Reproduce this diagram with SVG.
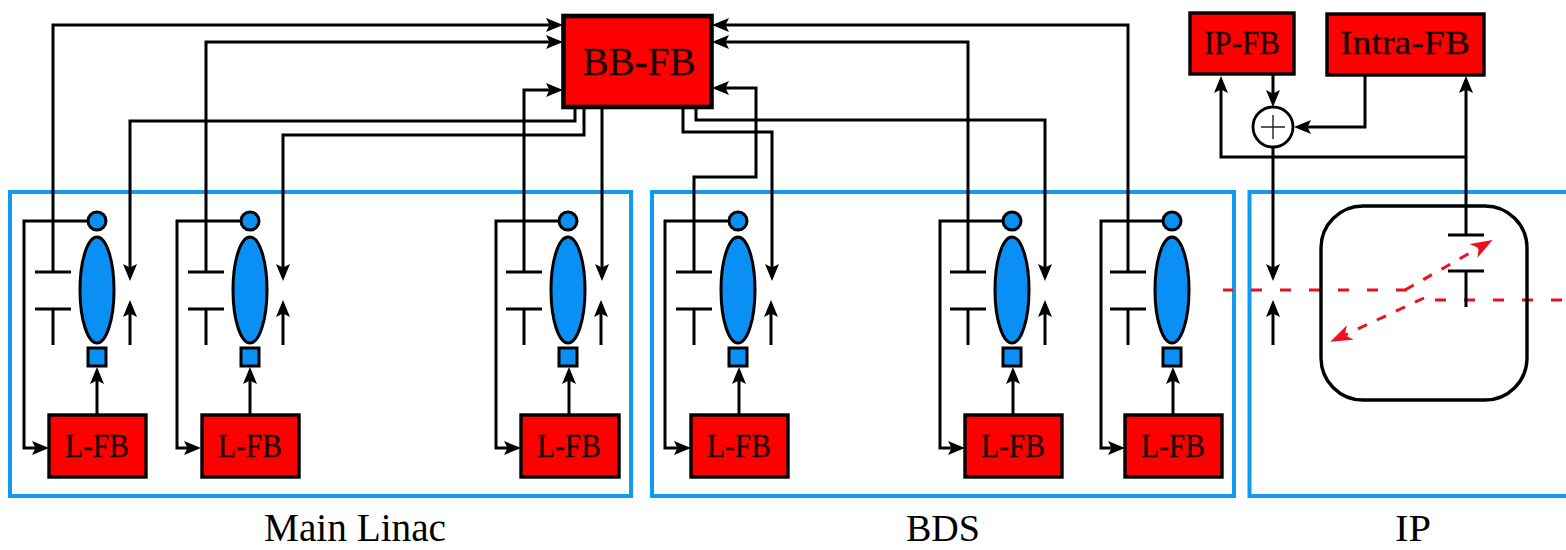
<svg xmlns="http://www.w3.org/2000/svg" width="1566" height="550" viewBox="0 0 1566 550">
<style>
.bg{fill:#fff}
.zone{fill:none;stroke:#0f9bf2;stroke-width:4}
.w{fill:none;stroke:#000;stroke-width:3}
.a{marker-end:url(#ah)}
.fb{fill:#f00;stroke:#000;stroke-width:3.4}
.bb{fill:#f00;stroke:#000;stroke-width:4.6}
.bl{fill:#0a90f5;stroke:#000;stroke-width:3}
.t{font-family:"Liberation Serif","Times New Roman",serif;fill:#000;text-anchor:middle}
.t1{fill:#1a0000;stroke:#1a0000;stroke-width:.3}
.r{fill:none;stroke:#e8101c;stroke-width:3;stroke-dasharray:11 18}
.rd{fill:none;stroke:#f0101c;stroke-width:3;stroke-dasharray:10 11;marker-end:url(#rh)}
</style>
<defs>
<marker id="ah" markerUnits="userSpaceOnUse" markerWidth="20" markerHeight="18" viewBox="0 0 20 18" refX="13" refY="9" orient="auto"><path d="M17 9 L0 2 L3.500 9 L0 16 Z" fill="#000"/></marker>
<marker id="rh" markerUnits="userSpaceOnUse" markerWidth="26" markerHeight="20" viewBox="0 0 26 20" refX="19" refY="10" orient="auto"><path d="M22 10 L0 2 L6 10 L0 18 Z" fill="#f0101c"/></marker>
</defs>
<rect class="bg" width="1566" height="550"/>
<g id="zones">
<rect class="zone" x="10" y="192" width="621" height="304"/>
<rect class="zone" x="652" y="192" width="582" height="304"/>
<path class="zone" d="M1570 192H1249.500V496H1570"/>
</g>
<g id="connectors">
<path class="w a" d="M53 272V25H559"/>
<path class="w a" d="M206 272V42H559"/>
<path class="w a" d="M524 272V90H559"/>
<path class="w a" d="M1128 272V25H716"/>
<path class="w a" d="M968 272V42H716"/>
<path class="w a" d="M694 272V177H756V88H716"/>
<path class="w a" d="M575 108V121H130V277"/>
<path class="w a" d="M584 108V135H283V277"/>
<path class="w a" d="M602 108V277"/>
<path class="w a" d="M683 108V132H772V277"/>
<path class="w a" d="M696 108V120H1045V277"/>
<path class="w a" d="M130 345V304"/><path class="w a" d="M283 345V304"/><path class="w a" d="M601 345V304"/><path class="w a" d="M771 345V304"/><path class="w a" d="M1045 345V304"/>
<path class="w a" d="M97 221H24V448H45"/><path class="w a" d="M250 221H177V448H197"/><path class="w a" d="M568 221H496V448H517"/><path class="w a" d="M738 221H665V448H687"/><path class="w a" d="M1012 221H940V448H961"/><path class="w a" d="M1172 221H1101V448H1121"/>
<path class="w a" d="M97 415V371"/><path class="w a" d="M250 415V371"/><path class="w a" d="M569 415V371"/><path class="w a" d="M739 415V371"/><path class="w a" d="M1013 415V371"/><path class="w a" d="M1173 415V371"/>
<path class="w a" d="M1273 75V103"/>
<path class="w a" d="M1365 75V127H1298"/>
<path class="w a" d="M1466 157H1221V80"/>
<path class="w a" d="M1466 235V80"/>
<path class="w a" d="M1273 147V277"/>
<path class="w a" d="M1273 345V304"/>
<path class="r" d="M1223 290H1407" stroke-dashoffset="1"/>
<path class="rd" d="M1405 290L1490 241.500"/>
<path class="r" d="M1566 300H1435" stroke-dashoffset="25"/>
<path class="rd" d="M1424 298L1333 340.500"/>
</g>
<g id="BB-FB"><rect class="bb" x="563.500" y="16" width="148" height="91"/><text class="t t1" x="639" y="75" font-size="41" textLength="113" lengthAdjust="spacingAndGlyphs">BB-FB</text></g>
<g id="IP-FB"><rect class="fb" x="1190" y="13" width="104" height="61"/><text class="t t1" x="1242" y="54" font-size="33" textLength="76" lengthAdjust="spacingAndGlyphs">IP-FB</text></g>
<g id="Intra-FB"><rect class="fb" x="1327" y="14" width="157" height="61"/><text class="t t1" x="1405" y="54" font-size="33" textLength="130" lengthAdjust="spacingAndGlyphs">Intra-FB</text></g>
<g id="sum"><circle cx="1273" cy="127" r="20" fill="#fff" stroke="#000" stroke-width="2.8"/><path d="M1261 127H1285M1273 115V139" fill="none" stroke="#222" stroke-width="1.4"/></g>
<g id="m1"><path class="w" d="M35 272H71M35 309H71M53 309V345"/><circle class="bl" cx="97" cy="221" r="9"/><ellipse class="bl" cx="97" cy="290" rx="17" ry="53"/><rect class="bl" x="88" y="348" width="18" height="18"/><rect class="fb" x="49" y="415" width="97" height="62"/><text class="t t1" x="97" y="457" font-size="33" textLength="64" lengthAdjust="spacingAndGlyphs">L-FB</text></g>
<g id="m2"><path class="w" d="M188 272H224M188 309H224M206 309V345"/><circle class="bl" cx="250" cy="221" r="9"/><ellipse class="bl" cx="250" cy="290" rx="17" ry="53"/><rect class="bl" x="241" y="348" width="18" height="18"/><rect class="fb" x="202" y="415" width="97" height="62"/><text class="t t1" x="250" y="457" font-size="33" textLength="64" lengthAdjust="spacingAndGlyphs">L-FB</text></g>
<g id="m3"><path class="w" d="M506 272H542M506 309H542M524 309V345"/><circle class="bl" cx="568" cy="221" r="9"/><ellipse class="bl" cx="568" cy="290" rx="17" ry="53"/><rect class="bl" x="559" y="348" width="18" height="18"/><rect class="fb" x="521" y="415" width="98" height="62"/><text class="t t1" x="569" y="457" font-size="33" textLength="64" lengthAdjust="spacingAndGlyphs">L-FB</text></g>
<g id="m4"><path class="w" d="M676 272H712M676 309H712M694 309V345"/><circle class="bl" cx="738" cy="221" r="9"/><ellipse class="bl" cx="738" cy="290" rx="17" ry="53"/><rect class="bl" x="729" y="348" width="18" height="18"/><rect class="fb" x="691" y="415" width="97" height="62"/><text class="t t1" x="739" y="457" font-size="33" textLength="64" lengthAdjust="spacingAndGlyphs">L-FB</text></g>
<g id="m5"><path class="w" d="M950 272H986M950 309H986M968 309V345"/><circle class="bl" cx="1012" cy="221" r="9"/><ellipse class="bl" cx="1012" cy="290" rx="17" ry="53"/><rect class="bl" x="1003" y="348" width="18" height="18"/><rect class="fb" x="965" y="415" width="97" height="62"/><text class="t t1" x="1013" y="457" font-size="33" textLength="64" lengthAdjust="spacingAndGlyphs">L-FB</text></g>
<g id="m6"><path class="w" d="M1110 272H1146M1110 309H1146M1128 309V345"/><circle class="bl" cx="1172" cy="221" r="9"/><ellipse class="bl" cx="1172" cy="290" rx="17" ry="53"/><rect class="bl" x="1163" y="348" width="18" height="18"/><rect class="fb" x="1125" y="415" width="97" height="62"/><text class="t t1" x="1173" y="457" font-size="33" textLength="64" lengthAdjust="spacingAndGlyphs">L-FB</text></g>
<g id="ip-chamber"><rect x="1321" y="206" width="206" height="194" rx="42" fill="none" stroke="#000" stroke-width="3.4"/><path class="w" d="M1448 235H1484M1448 271H1484M1466 271V307"/></g>
<g id="labels">
<text class="t" x="355" y="541" font-size="39" textLength="182" lengthAdjust="spacingAndGlyphs">Main Linac</text>
<text class="t" x="943" y="541" font-size="38" textLength="74" lengthAdjust="spacingAndGlyphs">BDS</text>
<text class="t" x="1413" y="541" font-size="38" textLength="36" lengthAdjust="spacingAndGlyphs">IP</text>
</g>
</svg>
